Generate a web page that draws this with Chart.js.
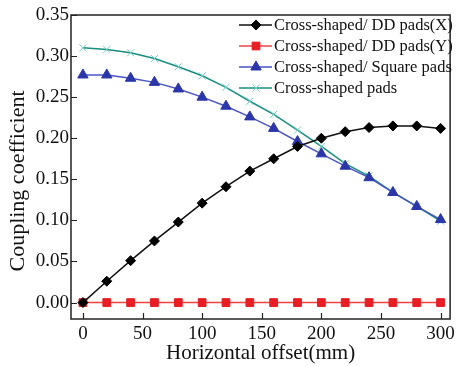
<!DOCTYPE html>
<html>
<head>
<meta charset="utf-8">
<script src="https://cdn.jsdelivr.net/npm/chart.js@4.4.1/dist/chart.umd.min.js"></script>
<style>
  html, body { margin: 0; padding: 0; background: #fff; }
  #wrap { width: 459px; height: 366px; }
</style>
</head>
<body>
<div id="wrap"><canvas id="chart" width="459" height="366"></canvas></div>
<script>
// offsets in mm
const offsets = [0, 20, 40, 60, 80, 100, 120, 140, 160, 180, 200, 220, 240, 260, 280, 300];

const ddPadsX = [0, 0.026, 0.051, 0.075, 0.098, 0.121, 0.141, 0.160, 0.175, 0.190, 0.200, 0.208, 0.213, 0.215, 0.215, 0.212];
const ddPadsY = [0, 0, 0, 0, 0, 0, 0, 0, 0, 0, 0, 0, 0, 0, 0, 0];
const squarePads = [0.277, 0.277, 0.273, 0.268, 0.260, 0.250, 0.239, 0.226, 0.212, 0.196, 0.181, 0.166, 0.152, 0.134, 0.117, 0.101];
const crossPads = [0.310, 0.308, 0.304, 0.297, 0.287, 0.276, 0.262, 0.245, 0.229, 0.210, 0.190, 0.169, 0.154, 0.134, 0.117, 0.099];

const xTicks = [0, 50, 100, 150, 200, 250, 300];
const yTicks = [0.00, 0.05, 0.10, 0.15, 0.20, 0.25, 0.30, 0.35];

const serif = "'Liberation Serif', 'Times New Roman', serif";

function toPoints(vals) {
  return vals.map((v, i) => ({ x: offsets[i], y: v }));
}

// box around the plot, inward tick marks, y title and the line+marker legend
const framePlugin = {
  id: 'frame',
  afterDraw(chart) {
    const ctx = chart.ctx;
    const a = chart.chartArea;
    ctx.save();
    ctx.strokeStyle = '#222';
    ctx.lineWidth = 1.5;
    ctx.strokeRect(a.left, a.top, a.right - a.left, a.bottom - a.top);

    ctx.lineWidth = 1.2;
    ctx.beginPath();
    chart.scales.x.ticks.forEach(t => {
      const px = Math.round(chart.scales.x.getPixelForValue(t.value)) + 0.5;
      ctx.moveTo(px, a.bottom);
      ctx.lineTo(px, a.bottom - 6);
    });
    chart.scales.y.ticks.forEach(t => {
      const py = Math.round(chart.scales.y.getPixelForValue(t.value)) + 0.5;
      ctx.moveTo(a.left, py);
      ctx.lineTo(a.left + 6, py);
    });
    ctx.stroke();

    // y axis title, sits a bit below the middle of the plot in the original
    ctx.save();
    ctx.translate(18, 181);
    ctx.rotate(-Math.PI / 2);
    ctx.font = '22px ' + serif;
    ctx.fillStyle = '#111';
    ctx.textAlign = 'center';
    ctx.textBaseline = 'middle';
    ctx.fillText('Coupling coefficient', 0, 0);
    ctx.restore();

    // legend
    const lx = 239, ly = 25, gap = 21;
    ctx.font = '16.5px ' + serif;
    ctx.textBaseline = 'middle';
    chart.data.datasets.forEach((ds, i) => {
      const y = ly + i * gap;
      ctx.strokeStyle = ds.borderColor;
      ctx.lineWidth = ds.borderWidth;
      ctx.beginPath();
      ctx.moveTo(lx, y);
      ctx.lineTo(lx + 33, y);
      ctx.stroke();
      ctx.fillStyle = ds.pointBackgroundColor;
      ctx.strokeStyle = ds.pointBorderColor;
      ctx.lineWidth = ds.pointBorderWidth;
      Chart.helpers.drawPoint(ctx, {
        pointStyle: ds.pointStyle,
        radius: ds.pointRadius,
        borderWidth: ds.pointBorderWidth
      }, lx + 17, y);
      ctx.fillStyle = '#111';
      ctx.fillText(ds.label, lx + 35, y + 1);
    });
    ctx.restore();
  }
};

new Chart(document.getElementById('chart'), {
  type: 'line',
  data: {
    datasets: [
      {
        label: 'Cross-shaped/ DD pads(X)',
        data: toPoints(ddPadsX),
        borderColor: '#111',
        borderWidth: 1.5,
        pointStyle: 'rectRot',
        pointRadius: 5,
        pointBorderWidth: 1,
        pointBackgroundColor: '#000',
        pointBorderColor: '#000'
      },
      {
        label: 'Cross-shaped/ DD pads(Y)',
        data: toPoints(ddPadsY),
        borderColor: '#f04040',
        borderWidth: 1.5,
        pointStyle: 'rect',
        pointRadius: 5.5,
        pointBorderWidth: 1,
        pointBackgroundColor: '#e81e25',
        pointBorderColor: '#e81e25'
      },
      {
        label: 'Cross-shaped/ Square pads',
        data: toPoints(squarePads),
        borderColor: '#4a55c4',
        borderWidth: 1.5,
        pointStyle: 'triangle',
        pointRadius: 6,
        pointBorderWidth: 1,
        pointBackgroundColor: '#2b36a8',
        pointBorderColor: '#2b36a8'
      },
      {
        label: 'Cross-shaped pads',
        data: toPoints(crossPads),
        borderColor: '#178f80',
        borderWidth: 1.5,
        pointStyle: 'crossRot',
        pointRadius: 5,
        pointBorderWidth: 1,
        pointBackgroundColor: '#6fcfc6',
        pointBorderColor: '#6fcfc6'
      }
    ]
  },
  options: {
    responsive: false,
    animation: false,
    layout: { padding: { left: 0, right: 6, top: 15, bottom: 0 } },
    plugins: {
      legend: { display: false },
      tooltip: { enabled: false }
    },
    scales: {
      x: {
        type: 'linear',
        min: -10,
        max: 308,
        afterBuildTicks: s => { s.ticks = xTicks.map(v => ({ value: v })); },
        afterFit: s => { s.height = 47; },
        grid: { display: false, drawTicks: false },
        border: { display: false },
        ticks: {
          color: '#111',
          padding: 4,
          font: { family: serif, size: 19 },
          callback: v => String(v)
        },
        title: {
          display: true,
          text: 'Horizontal offset(mm)',
          color: '#111',
          font: { family: serif, size: 21 },
          padding: { top: 0, bottom: 0 }
        }
      },
      y: {
        min: -0.02,
        max: 0.35,
        afterBuildTicks: s => { s.ticks = yTicks.map(v => ({ value: v })); },
        afterFit: s => { s.width = 71; },
        grid: { display: false, drawTicks: false },
        border: { display: false },
        ticks: {
          color: '#111',
          padding: 2,
          font: { family: serif, size: 19 },
          callback: v => v.toFixed(2)
        },
        title: { display: false }
      }
    }
  },
  plugins: [framePlugin]
});
</script>
</body>
</html>
